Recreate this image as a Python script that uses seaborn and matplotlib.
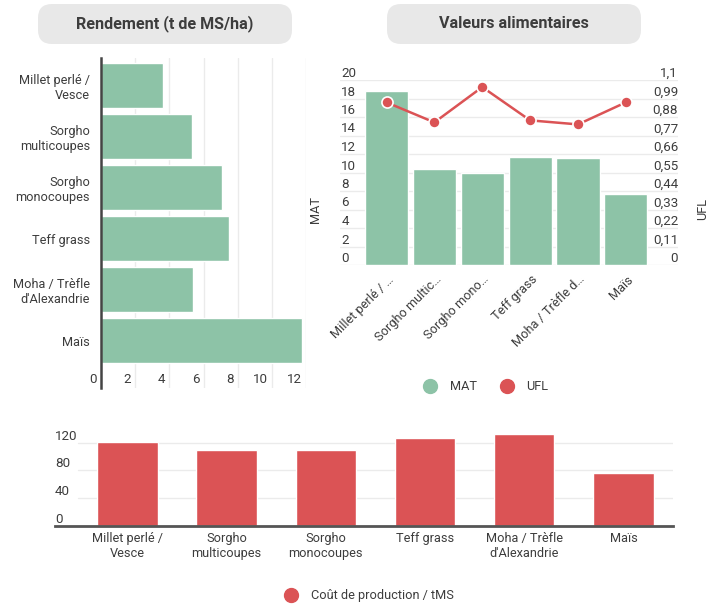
import numpy as np
import matplotlib.pyplot as plt
import matplotlib.transforms as mtransforms
from matplotlib.patches import FancyBboxPatch
from matplotlib.lines import Line2D
import seaborn as sns

# Données
cultures = ["Millet perlé /\nVesce", "Sorgho\nmulticoupes", "Sorgho\nmonocoupes",
            "Teff grass", "Moha / Trèfle\nd'Alexandrie", "Maïs"]
cultures_court = ["Millet perlé / …", "Sorgho multic…", "Sorgho mono…",
                  "Teff grass", "Moha / Trèfle d…", "Maïs"]
rendement = [3.6, 5.35, 7.1, 7.5, 5.4, 11.75]
mat = [18.8, 10.4, 9.95, 11.7, 11.6, 7.65]
ufl = [0.967, 0.848, 1.058, 0.86, 0.836, 0.967]
cout = [121, 109, 109, 126, 133, 76]

ticks_mat = np.arange(0, 21, 2)
ticks_ufl = [0, 0.11, 0.22, 0.33, 0.44, 0.55, 0.66, 0.77, 0.88, 0.99, 1.1]
labels_ufl = ["0", "0,11", "0,22", "0,33", "0,44", "0,55", "0,66", "0,77", "0,88", "0,99", "1,1"]
ticks_cout = [0, 40, 80, 120]

VERT = "#8dc3a7"
ROUGE = "#db5355"
TEXTE = "#3d3d3d"
GRILLE = "#ebebeb"
FS_CAT = 9.2
FS_NUM = 9.6

sns.set_style("white")
plt.rcParams['font.family'] = ['Roboto', 'DejaVu Sans']

W, H = 714, 605
fig = plt.figure(figsize=(W / 100, H / 100), dpi=100)


def px_axes(x0, y0, x1, y1):
    # coordonnées en pixels depuis le haut-gauche
    return fig.add_axes([x0 / W, 1 - y1 / H, (x1 - x0) / W, (y1 - y0) / H])


def offset(dx, dy):
    return mtransforms.ScaledTranslation(dx / 100, dy / 100, fig.dpi_scale_trans)


# --- Titres arrondis ---
for (x0, texte) in [(38, "Rendement (t de MS/ha)"), (387, "Valeurs alimentaires")]:
    box = FancyBboxPatch((x0, H - 44), 254, 40, boxstyle="round,pad=0,rounding_size=14",
                         transform=mtransforms.IdentityTransform(),
                         facecolor="#e8e8e8", edgecolor="none")
    fig.add_artist(box)
    fig.text((x0 + 127) / W, 1 - 24 / H, texte, ha="center", va="center",
             fontsize=11.6, fontweight="bold", color=TEXTE)

# --- Rendement (barres horizontales) ---
ax1 = px_axes(101, 58, 306, 388)
sns.barplot(x=rendement, y=cultures, orient="h", color=VERT, width=0.89,
            saturation=1, ax=ax1, zorder=2)
ax1.set_xlim(0, 12)
ax1.set_ylim(5.93, -0.54)
ax1.set_xticks(np.arange(0, 13, 2))
for x in np.arange(2, 13, 2):
    ax1.axvline(x, color=GRILLE, lw=1, zorder=0)
for s in ["top", "right", "bottom"]:
    ax1.spines[s].set_visible(False)
ax1.spines["left"].set_color("#444444")
ax1.spines["left"].set_linewidth(1.8)
ax1.tick_params(axis="y", length=0, pad=8, labelsize=FS_CAT, labelcolor=TEXTE)
ax1.tick_params(axis="x", length=0, pad=-6, labelsize=FS_NUM, labelcolor=TEXTE)
for lab in ax1.get_xticklabels():
    lab.set_ha("right")
    lab.set_va("center")
    lab.set_transform(lab.get_transform() + offset(-4, 0))
ax1.set_xlabel("")
ax1.set_ylabel("")

# --- Valeurs alimentaires (barres + ligne) ---
ax2 = px_axes(340, 80, 678, 265)
pos = np.arange(len(cultures_court))
sns.barplot(x=pos, y=mat, color=VERT, width=0.9, saturation=1, ax=ax2, zorder=2,
            native_scale=True)
ax2.set_xlim(-0.972, 6.09)
ax2.set_ylim(0, 20)
ax2.set_yticks(ticks_mat)
for y in ticks_mat:
    ax2.axhline(y, color=GRILLE, lw=1, zorder=0)
for s in ax2.spines.values():
    s.set_visible(False)
ax2.tick_params(axis="y", length=0, pad=-1, labelsize=FS_NUM, labelcolor=TEXTE)
for lab in ax2.get_yticklabels():
    lab.set_ha("left")
    lab.set_va("bottom")
ax2.set_xticks(pos)
ax2.set_xticklabels(cultures_court, rotation=45, ha="right", va="center",
                    rotation_mode="anchor", fontsize=FS_CAT, color=TEXTE)
ax2.tick_params(axis="x", length=0, pad=9)
for lab in ax2.get_xticklabels():
    lab.set_transform(lab.get_transform() + offset(5, 0))
ax2.set_xlabel("")
ax2.set_ylabel("MAT", fontsize=FS_CAT, color=TEXTE)
ax2.yaxis.set_label_coords(-0.053, 0.3)

ax3 = ax2.twinx()
sns.lineplot(x=pos, y=ufl, color=ROUGE, lw=1.8, marker="o", markersize=8,
             markeredgecolor="white", markeredgewidth=1.2, ax=ax3, zorder=3)
ax3.set_xlim(-0.972, 6.09)
ax3.set_ylim(0, 1.1)
ax3.set_yticks(ticks_ufl)
ax3.set_yticklabels(labels_ufl)
for s in ax3.spines.values():
    s.set_visible(False)
ax3.tick_params(axis="y", length=0, pad=0, labelsize=FS_NUM, labelcolor=TEXTE)
for lab in ax3.get_yticklabels():
    lab.set_ha("right")
    lab.set_va("bottom")
ax3.set_ylabel("UFL", fontsize=FS_CAT, color=TEXTE)
ax3.yaxis.set_label_coords(1.055, 0.3)

leg_handles = [Line2D([], [], ls="none", marker="o", markersize=10, color=VERT),
               Line2D([], [], ls="none", marker="o", markersize=10, color=ROUGE)]
fig.legend(leg_handles, ["MAT", "UFL"], loc="center", bbox_to_anchor=(483 / W, 1 - 387 / H),
           ncol=2, frameon=False, fontsize=FS_CAT, handletextpad=0.5, columnspacing=1.4,
           labelcolor=TEXTE)

# --- Coût de production ---
ax4 = px_axes(55, 428.7, 673, 526)
sns.barplot(x=cultures, y=cout, color=ROUGE, width=0.61, saturation=1, ax=ax4, zorder=2)
ax4.set_xlim(-0.731, 5.5)
ax4.set_ylim(0, 140)
ax4.set_yticks(ticks_cout)
for y in ticks_cout[1:]:
    ax4.axhline(y, xmin=22.9 / 618, color=GRILLE, lw=1, zorder=0)
for s in ["top", "right", "left"]:
    ax4.spines[s].set_visible(False)
ax4.spines["bottom"].set_color("#555555")
ax4.spines["bottom"].set_linewidth(2)
ax4.tick_params(axis="y", length=0, pad=0, labelsize=FS_NUM, labelcolor=TEXTE)
for lab in ax4.get_yticklabels():
    lab.set_ha("left")
    lab.set_va("bottom")
ax4.tick_params(axis="x", length=0, pad=4, labelsize=FS_CAT, labelcolor=TEXTE)
ax4.set_xlabel("")
ax4.set_ylabel("")

fig.legend([Line2D([], [], ls="none", marker="o", markersize=10, color=ROUGE)],
           ["Coût de production / tMS"], loc="center",
           bbox_to_anchor=(366 / W, 1 - 596 / H), frameon=False, fontsize=FS_CAT,
           handletextpad=0.5, labelcolor=TEXTE)

fig.savefig("out.png", dpi=100)
